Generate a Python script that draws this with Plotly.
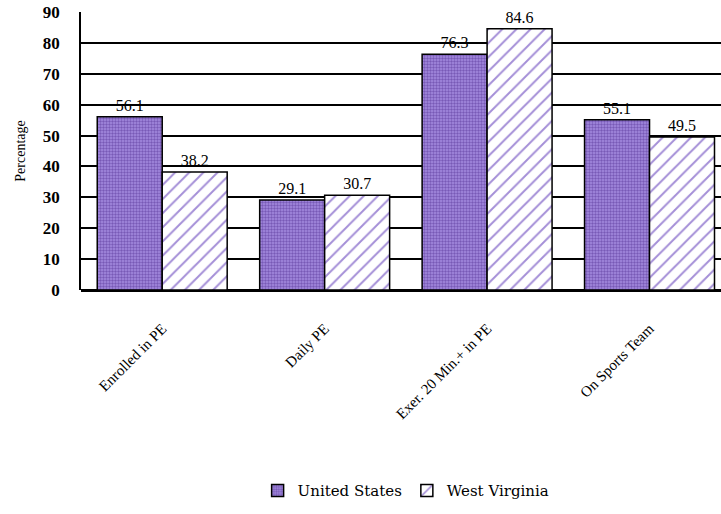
import plotly.graph_objects as go

categories = ["Enrolled in PE", "Daily PE", "Exer. 20 Min.+ in PE", "On Sports Team"]
us_values = [56.1, 29.1, 76.3, 55.1]
wv_values = [38.2, 30.7, 84.6, 49.5]
y_ticks = [0, 10, 20, 30, 40, 50, 60, 70, 80, 90]

font_family = "Liberation Serif"

fig = go.Figure()

fig.add_trace(go.Bar(
    name="United States",
    x=categories,
    y=us_values,
    text=[f"{v:.1f}" for v in us_values],
    textposition="outside",
    cliponaxis=False,
    textfont=dict(size=16, color="black", family=font_family),
    marker=dict(
        color="#4B2A8C",
        line=dict(color="black", width=1.5),
        pattern=dict(shape=".", fgcolor="#4B2A8C", bgcolor="#A58BE0",
                     size=3, solidity=0.5),
    ),
))

fig.add_trace(go.Bar(
    name="West Virginia",
    x=categories,
    y=wv_values,
    text=[f"{v:.1f}" for v in wv_values],
    textposition="outside",
    cliponaxis=False,
    textfont=dict(size=16, color="black", family=font_family),
    marker=dict(
        color="#4A1FB0",
        line=dict(color="black", width=1.5),
        pattern=dict(shape="/", fgcolor="#4A1FB0", bgcolor="white",
                     size=10, solidity=0.2),
    ),
))

fig.update_layout(
    width=721,
    height=514,
    barmode="group",
    bargap=0.2,
    bargroupgap=0,
    plot_bgcolor="white",
    paper_bgcolor="white",
    font=dict(family=font_family, size=13, color="black"),
    margin=dict(l=81, r=0, t=12, b=224, autoexpand=False),
    xaxis=dict(
        range=[-0.5, 3.44],
        tickangle=-45,
        tickfont=dict(size=15, family=font_family),
        ticklabelstandoff=26,
        showline=False,
        ticks="",
        showgrid=False,
    ),
    yaxis=dict(
        range=[0, 90],
        tickvals=y_ticks,
        tickfont=dict(size=17, family=font_family, weight="bold"),
        ticklabelstandoff=16,
        showgrid=True,
        gridcolor="black",
        gridwidth=1.5,
        zeroline=True,
        zerolinecolor="black",
        zerolinewidth=3,
        showline=True,
        linecolor="black",
        linewidth=1.5,
        mirror=False,
        ticks="",
        title=dict(text="Percentage", font=dict(size=14, family=font_family), standoff=14),
    ),
    legend=dict(
        orientation="h",
        x=0.508,
        xanchor="center",
        y=-0.663,
        yanchor="top",
        font=dict(size=15, family="DejaVu Serif"),
        itemwidth=30,
    ),
)

# drop the page's default body margin so the chart sits flush with the window
fig.write_html("out.html", config={"displayModeBar": False},
               post_script="document.body.style.margin='0';")
